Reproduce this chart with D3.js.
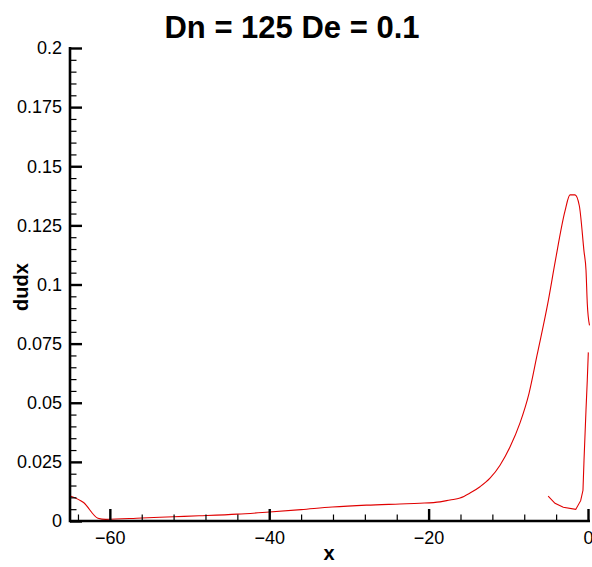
<!DOCTYPE html>
<html>
<head>
<meta charset="utf-8">
<script src="https://cdn.jsdelivr.net/npm/d3@7"></script>
<style>
  html, body { margin: 0; padding: 0; background: #fff; }
  svg { display: block; font-family: "Liberation Sans", Arial, sans-serif; }
</style>
</head>
<body>
<svg id="chart" width="592" height="567"></svg>
<script>
// Upper branch of the dudx profile (rises to the peak near x = -2)
const upperX = [-64.9, -63.3, -61.5, -60.5, -56, -52, -48.8, -44, -40.4, -36, -32.1, -27.8, -23.6, -21.1,
  -18.57, -17.32, -16.06, -14.81, -13.55, -12.3, -11.04, -9.79, -8.53, -7.4, -6.4, -4.98, -4.1, -2.89,
  -2.26, -1.63, -1.09, -0.5, -0.25, -0.09, 0.19];
const upperY = [0.0105, 0.0078, 0.0012, 0.0007, 0.0013, 0.0018, 0.0022, 0.0029, 0.0037, 0.0048, 0.0059, 0.0067, 0.0072, 0.0075,
  0.0081, 0.0089, 0.0097, 0.0118, 0.0145, 0.0181, 0.0236, 0.0313, 0.0415, 0.054, 0.070, 0.0932, 0.110, 0.131,
  0.1379, 0.1379, 0.1333, 0.114, 0.106, 0.092, 0.0827];

// Lower branch near the outlet
const lowerX = [-5.0, -4.14, -3.1, -1.54, -0.92, -0.63, -0.5, -0.25, -0.09, 0.04];
const lowerY = [0.0105, 0.0075, 0.0058, 0.0049, 0.0086, 0.013, 0.0257, 0.047, 0.0595, 0.0713];

const xMajorTicks = [-60, -40, -20, 0];
const xMinorTicks = [-64, -56, -52, -48, -44, -36, -32, -28, -24, -16, -12, -8, -4];
const yMajorTicks = [0, 0.025, 0.05, 0.075, 0.1, 0.125, 0.15, 0.175, 0.2];
const yTickLabels = ["0", "0.025", "0.05", "0.075", "0.1", "0.125", "0.15", "0.175", "0.2"];
const yMinorTicks = d3.range(0, 41).map(i => i * 0.005).filter((v, i) => i % 5 !== 0);

const titleText = "Dn = 125 De = 0.1";
const xTitle = "x";
const yTitle = "dudx";

const svg = d3.select("#chart");
const plotLeft = 70, plotRight = 588, plotTop = 48, plotBottom = 521;

const x = d3.scaleLinear().domain([-65, 0]).range([plotLeft, plotRight]);
const y = d3.scaleLinear().domain([0, 0.2]).range([plotBottom, plotTop]);

svg.append("defs").append("clipPath").attr("id", "plotClip")
  .append("rect").attr("x", plotLeft).attr("y", plotTop)
  .attr("width", 590 - plotLeft).attr("height", plotBottom - plotTop);

// Curves
const plot = svg.append("g").attr("clip-path", "url(#plotClip)");
const smoothLine = d3.line().curve(d3.curveMonotoneX).x(d => x(d[0])).y(d => y(d[1]));
const straightLine = d3.line().x(d => x(d[0])).y(d => y(d[1]));
[[upperX, upperY, smoothLine], [lowerX, lowerY, straightLine]].forEach(([xs, ys, gen]) => {
  plot.append("path")
    .datum(xs.map((v, i) => [v, ys[i]]))
    .attr("d", gen)
    .attr("fill", "none")
    .attr("stroke", "#e00000")
    .attr("stroke-width", 1.1);
});

const fontFam = "'Liberation Sans', Arial, sans-serif";

// X axis (ticks point inward)
svg.append("g").attr("transform", `translate(0,${plotBottom})`)
  .call(d3.axisTop(x).tickValues(xMinorTicks).tickSize(6.5).tickFormat(""))
  .call(g => g.select(".domain").remove())
  .call(g => g.selectAll("line").attr("stroke", "#000").attr("stroke-width", 1.2));
svg.append("g").attr("transform", `translate(0,${plotBottom})`)
  .call(d3.axisTop(x).tickValues(xMajorTicks).tickSize(12).tickFormat(""))
  .call(g => g.select(".domain").remove())
  .call(g => g.selectAll("line").attr("stroke", "#000").attr("stroke-width", 2.4));
svg.append("g").attr("transform", `translate(0,${plotBottom})`)
  .call(d3.axisBottom(x).tickValues(xMajorTicks).tickSize(0).tickPadding(10).tickFormat(d3.format("d")))
  .call(g => g.select(".domain").remove())
  .call(g => g.selectAll("text").attr("font-size", 18).attr("fill", "#000").attr("font-family", fontFam));

// Y axis (ticks point inward)
svg.append("g").attr("transform", `translate(${plotLeft},0)`)
  .call(d3.axisRight(y).tickValues(yMinorTicks).tickSize(6.5).tickFormat(""))
  .call(g => g.select(".domain").remove())
  .call(g => g.selectAll("line").attr("stroke", "#000").attr("stroke-width", 1.2));
svg.append("g").attr("transform", `translate(${plotLeft},0)`)
  .call(d3.axisRight(y).tickValues(yMajorTicks).tickSize(12).tickFormat(""))
  .call(g => g.select(".domain").remove())
  .call(g => g.selectAll("line").attr("stroke", "#000").attr("stroke-width", 2.4));
svg.append("g").attr("transform", `translate(${plotLeft},0)`)
  .call(d3.axisLeft(y).tickValues(yMajorTicks).tickSize(0).tickPadding(8)
    .tickFormat((d, i) => yTickLabels[i]))
  .call(g => g.select(".domain").remove())
  .call(g => g.selectAll("text").attr("font-size", 18).attr("fill", "#000").attr("font-family", fontFam));

// Axis lines
svg.append("line").attr("x1", plotLeft).attr("x2", 590).attr("y1", plotBottom).attr("y2", plotBottom)
  .attr("stroke", "#000").attr("stroke-width", 2.6);
svg.append("line").attr("x1", plotLeft).attr("x2", plotLeft).attr("y1", plotTop - 1).attr("y2", plotBottom + 1.3)
  .attr("stroke", "#000").attr("stroke-width", 2.6);

// Titles
svg.append("text").attr("x", 292).attr("y", 38).attr("text-anchor", "middle")
  .attr("font-size", 31).attr("font-weight", "bold").text(titleText);
svg.append("text").attr("x", 329).attr("y", 560).attr("text-anchor", "middle")
  .attr("font-size", 20).attr("font-weight", "bold").text(xTitle);
svg.append("text").attr("transform", "translate(28,287) rotate(-90)").attr("text-anchor", "middle")
  .attr("font-size", 20).attr("font-weight", "bold").text(yTitle);
</script>
</body>
</html>
